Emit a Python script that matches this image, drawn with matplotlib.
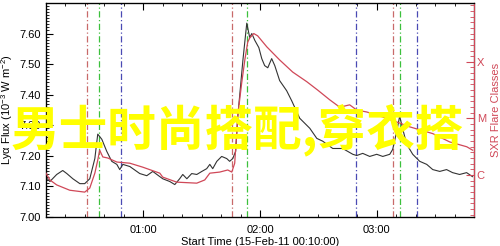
import numpy as np
import matplotlib
matplotlib.use('Agg')
from matplotlib import pyplot as plt
from matplotlib.ticker import MultipleLocator, FixedLocator

plt.rcParams['font.family'] = ['Liberation Sans', 'DejaVu Sans']
plt.rcParams['mathtext.default'] = 'regular'

# minutes after 00:10:00
lya_t = [0, 2, 5.5, 8.6, 10.7, 13.8, 17.4, 19.9, 22.5, 25.1, 26.6, 28.7, 31.2, 33.8, 36.4,
         37.9, 39.5, 43.1, 48.2, 51.8, 54.9, 57, 60, 63.6, 66.2, 68.7, 70.3, 72.4, 74.9,
         77.5, 80.1, 82.6, 84.2, 85.7, 87.8, 90.3, 92.9, 94.4, 96, 97.5, 98.6, 101.2, 103.2,
         104.7, 105.8, 107.3, 109.4, 110.9, 112.4, 114, 116, 117.6, 120.1, 123.7, 126.3,
         130.4, 135.6, 139.2, 142.2, 147.4, 152.5, 157.7, 159.7, 162.8, 166.4, 170, 173.1,
         176.7, 178.2, 180.3, 181.8, 183.4, 185.4, 188.5, 192.1, 195.7, 198.8, 202.4, 205.9,
         209, 212.6, 216.2, 219.2]
lya_flux = [7.129, 7.116, 7.139, 7.152, 7.142, 7.125, 7.109, 7.109, 7.125, 7.191, 7.271,
            7.254, 7.215, 7.182, 7.172, 7.155, 7.172, 7.165, 7.142, 7.135, 7.149, 7.139,
            7.125, 7.116, 7.106, 7.125, 7.139, 7.125, 7.142, 7.139, 7.149, 7.158, 7.172,
            7.158, 7.182, 7.198, 7.191, 7.182, 7.191, 7.215, 7.33, 7.512, 7.634, 7.587,
            7.60, 7.578, 7.554, 7.518, 7.495, 7.488, 7.518, 7.495, 7.446, 7.413, 7.38,
            7.323, 7.29, 7.257, 7.248, 7.224, 7.224, 7.205, 7.201, 7.208, 7.198, 7.205,
            7.198, 7.205, 7.221, 7.28, 7.33, 7.287, 7.238, 7.205, 7.182, 7.172, 7.155,
            7.149, 7.155, 7.145, 7.139, 7.145, 7.132]

sxr_t = [0, 2, 5.5, 12.2, 19.9, 22.5, 25.1, 26.6, 27.6, 29.2, 31.8, 36.4, 43.1, 49.7, 58.5,
         60, 67.2, 77.5, 81.6, 84.2, 89.3, 93.4, 95.5, 97, 98.6, 100.6, 102.2, 103.7, 104.7,
         106.8, 108.8, 113.5, 120.1, 126.8, 134, 139.7, 145.8, 151, 156.1, 159.7, 164.9,
         171.5, 181.8, 187, 198.8, 207.5, 216.3, 219.3]
sxr_flux = [1.08e-6, 8.2e-7, 6.7e-7, 5.4e-7, 5.0e-7, 5.9e-7, 1.08e-6, 1.84e-6, 2.75e-6,
            2.09e-6, 2.0e-6, 1.70e-6, 1.62e-6, 1.38e-6, 1.08e-6, 9.2e-7, 7.5e-7, 7.2e-7,
            8.2e-7, 1.08e-6, 1.13e-6, 1.23e-6, 1.13e-6, 1.62e-6, 1.15e-5, 4.27e-5, 1.08e-4,
            2.24e-4, 2.63e-4, 3.16e-4, 2.88e-4, 1.84e-4, 1.08e-4, 6.6e-5, 4.47e-5, 3.16e-5,
            2.14e-5, 1.58e-5, 1.74e-5, 1.41e-5, 1.30e-5, 1.11e-5, 8.3e-6, 7.1e-6, 5.4e-6,
            3.85e-6, 3.16e-6, 2.75e-6]

# event markers (minutes after 00:10)
red_lines = [21.1, 95.6, 178.2]
green_lines = [27.1, 103.3, 182.0]
blue_lines = [38.6, 159.4, 190.7]

hour_ticks = [50, 110, 170]
hour_labels = ['01:00', '02:00', '03:00']
class_ticks = [-6, -5, -4]
class_labels = ['C', 'M', 'X']

fig = plt.figure(figsize=(5, 2.46), dpi=100)
ax = fig.add_axes([0.092, 0.118, 0.856, 0.870])

dash = (0, (5, 2, 1, 2))
for x in red_lines:
    ax.axvline(x, color='#c86a6a', lw=0.9, ls=dash)
for x in green_lines:
    ax.axvline(x, color='#3cc03c', lw=0.9, ls=dash)
for x in blue_lines:
    ax.axvline(x, color='#4a4ab4', lw=0.9, ls=dash)

ax.plot(lya_t, lya_flux, color='#333333', lw=0.8, zorder=3)

ax.set_xlim(0, 220)
ax.set_ylim(7.0, 7.70)
ax.set_xticks(hour_ticks)
ax.set_xticklabels(hour_labels)
ax.xaxis.set_minor_locator(MultipleLocator(10))
ax.set_yticks([7.0, 7.1, 7.2, 7.3, 7.4, 7.5, 7.6])
ax.set_yticklabels(['7.00', '7.10', '7.20', '7.30', '7.40', '7.50', '7.60'])
ax.yaxis.set_minor_locator(MultipleLocator(0.01))
ax.tick_params(axis='x', which='both', direction='in', top=True, labelsize=8, pad=6)
ax.tick_params(axis='y', which='both', direction='in', labelsize=8, right=False)
ax.tick_params(which='major', length=5, width=0.8)
ax.tick_params(which='minor', length=2.5, width=0.6)
ax.set_xlabel('Start Time (15-Feb-11 00:10:00)', fontsize=8, labelpad=1)
ax.set_ylabel('Ly\u03b1 Flux (10$^{-3}$ W m$^{-2}$)', fontsize=8, labelpad=3)
for s in ax.spines.values():
    s.set_linewidth(0.9)

ax2 = ax.twinx()
ax2.plot(sxr_t, np.log10(sxr_flux), color='#d04858', lw=0.9, zorder=4)
ax2.set_ylim(-6.74, -2.96)
ax2.yaxis.set_major_locator(FixedLocator(class_ticks))
ax2.set_yticklabels(class_labels)
ax2.yaxis.set_minor_locator(MultipleLocator(0.1))
ax2.tick_params(axis='y', which='both', direction='in', colors='#d04858', labelsize=8, pad=2)
ax2.tick_params(which='major', length=6, width=0.8)
ax2.tick_params(which='minor', length=3, width=0.6)
ax2.spines['right'].set_color('#d04858')
ax2.set_ylabel('SXR Flare Classes', color='#d04858', fontsize=8, labelpad=4)

fig.text(0.474, 0.467, '男士时尚搭配,穿衣搭', color='#ffff00', fontsize=35, fontweight='bold',
         family=['Noto Sans CJK SC', 'DejaVu Sans'], ha='center', va='center', zorder=10)

fig.savefig('out.png', dpi=100)
